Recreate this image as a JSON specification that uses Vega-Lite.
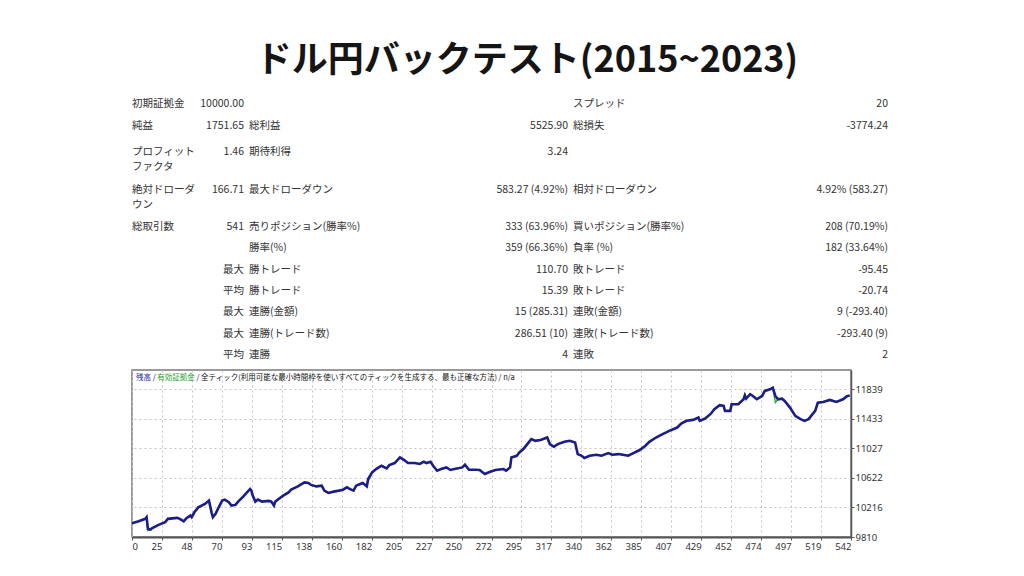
{
  "$schema": "https://vega.github.io/schema/vega-lite/v6.json",
  "background": "white",
  "padding": {"left": 126, "top": 43, "right": 10, "bottom": 10},
  "title": {"text": "ドル円バックテスト(2015~2023)", "font": "Noto Sans CJK JP", "fontSize": 36, "fontWeight": "bold", "color": "#151515", "anchor": "middle", "offset": 19, "dx": 20},
  "config": {"view": {"stroke": null}, "font": "Noto Sans CJK JP"},
  "bounds": "flush",
  "spacing": 15,
  "datasets": {
    "table": [
      {"g": 1, "row": 1, "label": "初期証拠金", "value": "10000.00"},
      {"g": 1, "row": 5, "label": "純益", "value": "1751.65"},
      {"g": 1, "row": 10, "label": "プロフィット\nファクタ", "value": "1.46"},
      {"g": 1, "row": 17, "label": "絶対ドローダ\nウン", "value": "166.71"},
      {"g": 1, "row": 24, "label": "総取引数", "value": "541"},
      {"g": 1, "row": 32, "label": "", "value": "最大"},
      {"g": 1, "row": 36, "label": "", "value": "平均"},
      {"g": 1, "row": 40, "label": "", "value": "最大"},
      {"g": 1, "row": 44, "label": "", "value": "最大"},
      {"g": 1, "row": 48, "label": "", "value": "平均"},
      {"g": 2, "row": 5, "label": "総利益", "value": "5525.90"},
      {"g": 2, "row": 10, "label": "期待利得", "value": "3.24"},
      {"g": 2, "row": 17, "label": "最大ドローダウン", "value": "583.27 (4.92%)"},
      {"g": 2, "row": 24, "label": "売りポジション(勝率%)", "value": "333 (63.96%)"},
      {"g": 2, "row": 28, "label": "勝率(%)", "value": "359 (66.36%)"},
      {"g": 2, "row": 32, "label": "勝トレード", "value": "110.70"},
      {"g": 2, "row": 36, "label": "勝トレード", "value": "15.39"},
      {"g": 2, "row": 40, "label": "連勝(金額)", "value": "15 (285.31)"},
      {"g": 2, "row": 44, "label": "連勝(トレード数)", "value": "286.51 (10)"},
      {"g": 2, "row": 48, "label": "連勝", "value": "4"},
      {"g": 3, "row": 1, "label": "スプレッド", "value": "20"},
      {"g": 3, "row": 5, "label": "総損失", "value": "-3774.24"},
      {"g": 3, "row": 17, "label": "相対ドローダウン", "value": "4.92% (583.27)"},
      {"g": 3, "row": 24, "label": "買いポジション(勝率%)", "value": "208 (70.19%)"},
      {"g": 3, "row": 28, "label": "負率 (%)", "value": "182 (33.64%)"},
      {"g": 3, "row": 32, "label": "敗トレード", "value": "-95.45"},
      {"g": 3, "row": 36, "label": "敗トレード", "value": "-20.74"},
      {"g": 3, "row": 40, "label": "連敗(金額)", "value": "9 (-293.40)"},
      {"g": 3, "row": 44, "label": "連敗(トレード数)", "value": "-293.40 (9)"},
      {"g": 3, "row": 48, "label": "連敗", "value": "2"}
    ],
    "bal": [
      {"i": 0, "b": 10000, "e": 10000},
      {"i": 5, "b": 10026, "e": 10026},
      {"i": 10, "b": 10059, "e": 10059},
      {"i": 11, "b": 10081, "e": 10081},
      {"i": 12, "b": 9922, "e": 9900},
      {"i": 14, "b": 9913, "e": 9913},
      {"i": 15, "b": 9930, "e": 9930},
      {"i": 20, "b": 9977, "e": 9977},
      {"i": 25, "b": 10012, "e": 10012},
      {"i": 27, "b": 10059, "e": 10059},
      {"i": 34, "b": 10072, "e": 10072},
      {"i": 36, "b": 10059, "e": 10059},
      {"i": 39, "b": 10026, "e": 10026},
      {"i": 41, "b": 10067, "e": 10067},
      {"i": 44, "b": 10104, "e": 10104},
      {"i": 45, "b": 10081, "e": 10081},
      {"i": 47, "b": 10149, "e": 10149},
      {"i": 50, "b": 10217, "e": 10217},
      {"i": 55, "b": 10264, "e": 10264},
      {"i": 58, "b": 10309, "e": 10309},
      {"i": 60, "b": 10149, "e": 10120},
      {"i": 61, "b": 10081, "e": 10081},
      {"i": 63, "b": 10127, "e": 10127},
      {"i": 65, "b": 10204, "e": 10204},
      {"i": 68, "b": 10309, "e": 10309},
      {"i": 70, "b": 10323, "e": 10323},
      {"i": 73, "b": 10286, "e": 10286},
      {"i": 75, "b": 10241, "e": 10241},
      {"i": 78, "b": 10250, "e": 10250},
      {"i": 80, "b": 10295, "e": 10295},
      {"i": 84, "b": 10368, "e": 10368},
      {"i": 89, "b": 10469, "e": 10469},
      {"i": 90, "b": 10446, "e": 10446},
      {"i": 91, "b": 10377, "e": 10377},
      {"i": 93, "b": 10295, "e": 10295},
      {"i": 95, "b": 10323, "e": 10323},
      {"i": 98, "b": 10295, "e": 10295},
      {"i": 103, "b": 10305, "e": 10305},
      {"i": 105, "b": 10295, "e": 10295},
      {"i": 107, "b": 10241, "e": 10241},
      {"i": 108, "b": 10295, "e": 10295},
      {"i": 110, "b": 10323, "e": 10323},
      {"i": 114, "b": 10377, "e": 10377},
      {"i": 118, "b": 10422, "e": 10422},
      {"i": 120, "b": 10459, "e": 10459},
      {"i": 125, "b": 10504, "e": 10504},
      {"i": 130, "b": 10559, "e": 10559},
      {"i": 133, "b": 10551, "e": 10551},
      {"i": 135, "b": 10524, "e": 10524},
      {"i": 139, "b": 10504, "e": 10504},
      {"i": 143, "b": 10514, "e": 10514},
      {"i": 145, "b": 10446, "e": 10446},
      {"i": 148, "b": 10414, "e": 10414},
      {"i": 152, "b": 10432, "e": 10432},
      {"i": 156, "b": 10446, "e": 10446},
      {"i": 159, "b": 10459, "e": 10459},
      {"i": 162, "b": 10491, "e": 10491},
      {"i": 164, "b": 10469, "e": 10469},
      {"i": 167, "b": 10446, "e": 10446},
      {"i": 169, "b": 10514, "e": 10514},
      {"i": 172, "b": 10537, "e": 10537},
      {"i": 174, "b": 10551, "e": 10551},
      {"i": 177, "b": 10504, "e": 10504},
      {"i": 178, "b": 10606, "e": 10580},
      {"i": 181, "b": 10696, "e": 10696},
      {"i": 184, "b": 10742, "e": 10742},
      {"i": 188, "b": 10787, "e": 10787},
      {"i": 192, "b": 10750, "e": 10750},
      {"i": 194, "b": 10797, "e": 10797},
      {"i": 198, "b": 10824, "e": 10824},
      {"i": 202, "b": 10901, "e": 10901},
      {"i": 205, "b": 10869, "e": 10869},
      {"i": 208, "b": 10824, "e": 10824},
      {"i": 213, "b": 10824, "e": 10824},
      {"i": 217, "b": 10811, "e": 10811},
      {"i": 220, "b": 10842, "e": 10842},
      {"i": 222, "b": 10824, "e": 10824},
      {"i": 225, "b": 10842, "e": 10842},
      {"i": 227, "b": 10787, "e": 10787},
      {"i": 230, "b": 10719, "e": 10719},
      {"i": 233, "b": 10742, "e": 10742},
      {"i": 237, "b": 10764, "e": 10764},
      {"i": 240, "b": 10729, "e": 10729},
      {"i": 243, "b": 10742, "e": 10742},
      {"i": 249, "b": 10764, "e": 10764},
      {"i": 251, "b": 10801, "e": 10801},
      {"i": 254, "b": 10733, "e": 10733},
      {"i": 259, "b": 10733, "e": 10733},
      {"i": 262, "b": 10729, "e": 10729},
      {"i": 266, "b": 10674, "e": 10674},
      {"i": 270, "b": 10705, "e": 10705},
      {"i": 274, "b": 10729, "e": 10729},
      {"i": 280, "b": 10742, "e": 10742},
      {"i": 282, "b": 10719, "e": 10719},
      {"i": 285, "b": 10764, "e": 10764},
      {"i": 286, "b": 10901, "e": 10901},
      {"i": 290, "b": 10924, "e": 10924},
      {"i": 292, "b": 10969, "e": 10969},
      {"i": 295, "b": 11016, "e": 11016},
      {"i": 298, "b": 11084, "e": 11084},
      {"i": 301, "b": 11152, "e": 11152},
      {"i": 304, "b": 11129, "e": 11129},
      {"i": 308, "b": 11139, "e": 11139},
      {"i": 313, "b": 11174, "e": 11174},
      {"i": 315, "b": 11084, "e": 11084},
      {"i": 318, "b": 11047, "e": 11047},
      {"i": 321, "b": 11084, "e": 11084},
      {"i": 326, "b": 11115, "e": 11115},
      {"i": 330, "b": 11129, "e": 11129},
      {"i": 334, "b": 11106, "e": 11106},
      {"i": 336, "b": 10947, "e": 10947},
      {"i": 339, "b": 10924, "e": 10924},
      {"i": 341, "b": 10893, "e": 10893},
      {"i": 345, "b": 10924, "e": 10924},
      {"i": 350, "b": 10938, "e": 10938},
      {"i": 354, "b": 10924, "e": 10924},
      {"i": 359, "b": 10961, "e": 10961},
      {"i": 362, "b": 10938, "e": 10938},
      {"i": 367, "b": 10947, "e": 10947},
      {"i": 370, "b": 10938, "e": 10938},
      {"i": 374, "b": 10924, "e": 10924},
      {"i": 378, "b": 10961, "e": 10961},
      {"i": 383, "b": 11006, "e": 11006},
      {"i": 387, "b": 11061, "e": 11061},
      {"i": 390, "b": 11115, "e": 11115},
      {"i": 395, "b": 11174, "e": 11174},
      {"i": 400, "b": 11221, "e": 11221},
      {"i": 405, "b": 11266, "e": 11266},
      {"i": 411, "b": 11311, "e": 11311},
      {"i": 414, "b": 11366, "e": 11366},
      {"i": 418, "b": 11403, "e": 11403},
      {"i": 423, "b": 11416, "e": 11416},
      {"i": 427, "b": 11448, "e": 11448},
      {"i": 428, "b": 11403, "e": 11403},
      {"i": 432, "b": 11434, "e": 11434},
      {"i": 436, "b": 11494, "e": 11494},
      {"i": 439, "b": 11562, "e": 11562},
      {"i": 443, "b": 11617, "e": 11617},
      {"i": 446, "b": 11608, "e": 11608},
      {"i": 447, "b": 11539, "e": 11539},
      {"i": 451, "b": 11539, "e": 11539},
      {"i": 452, "b": 11631, "e": 11631},
      {"i": 457, "b": 11631, "e": 11631},
      {"i": 461, "b": 11699, "e": 11699},
      {"i": 462, "b": 11754, "e": 11754},
      {"i": 463, "b": 11707, "e": 11707},
      {"i": 466, "b": 11768, "e": 11768},
      {"i": 468, "b": 11744, "e": 11744},
      {"i": 471, "b": 11699, "e": 11699},
      {"i": 475, "b": 11744, "e": 11744},
      {"i": 477, "b": 11813, "e": 11813},
      {"i": 481, "b": 11836, "e": 11836},
      {"i": 483, "b": 11858, "e": 11858},
      {"i": 485, "b": 11744, "e": 11653},
      {"i": 487, "b": 11699, "e": 11699},
      {"i": 490, "b": 11707, "e": 11707},
      {"i": 492, "b": 11676, "e": 11676},
      {"i": 496, "b": 11584, "e": 11584},
      {"i": 500, "b": 11471, "e": 11471},
      {"i": 504, "b": 11426, "e": 11426},
      {"i": 507, "b": 11403, "e": 11403},
      {"i": 510, "b": 11426, "e": 11426},
      {"i": 515, "b": 11539, "e": 11539},
      {"i": 517, "b": 11653, "e": 11653},
      {"i": 521, "b": 11662, "e": 11662},
      {"i": 526, "b": 11690, "e": 11690},
      {"i": 531, "b": 11662, "e": 11662},
      {"i": 536, "b": 11699, "e": 11699},
      {"i": 539, "b": 11740, "e": 11740},
      {"i": 541, "b": 11752, "e": 11752}
    ],
    "header": [
      {"bal": "残高", "sep": "/", "eq": "有効証拠金", "rest": "/ 全ティック(利用可能な最小時間枠を使いすべてのティックを生成する、最も正確な方法) / n/a"}
    ]
  },
  "vconcat": [
    {
      "width": 756, "height": 256,
      "data": {"name": "table"},
      "resolve": {"scale": {"x": "independent"}},
      "layer": [
        {"transform": [{"filter": "datum.g == 1"}],
         "layer": [
           {"mark": {"type": "text", "align": "left", "baseline": "middle", "fontSize": 10.5, "color": "#333", "lineBreak": "\n", "lineHeight": 15},
            "encoding": {"x": {"datum": 0, "type": "quantitative", "scale": {"domain": [0, 1], "range": [0, 112], "nice": false, "zero": false}, "axis": null},
                         "y": {"field": "row", "type": "quantitative", "scale": {"domain": [0, 48], "reverse": true, "nice": false, "zero": false}, "axis": null},
                         "text": {"field": "label"}}},
           {"mark": {"type": "text", "align": "right", "baseline": "middle", "fontSize": 10.5, "color": "#333"},
            "encoding": {"x": {"datum": 1, "type": "quantitative"},
                         "y": {"field": "row", "type": "quantitative"},
                         "text": {"field": "value"}}}
         ]},
        {"transform": [{"filter": "datum.g == 2"}],
         "layer": [
           {"mark": {"type": "text", "align": "left", "baseline": "middle", "fontSize": 10.5, "color": "#333", "lineBreak": "\n", "lineHeight": 15},
            "encoding": {"x": {"datum": 0, "type": "quantitative", "scale": {"domain": [0, 1], "range": [117, 436], "nice": false, "zero": false}, "axis": null},
                         "y": {"field": "row", "type": "quantitative", "scale": {"domain": [0, 48], "reverse": true, "nice": false, "zero": false}, "axis": null},
                         "text": {"field": "label"}}},
           {"mark": {"type": "text", "align": "right", "baseline": "middle", "fontSize": 10.5, "color": "#333"},
            "encoding": {"x": {"datum": 1, "type": "quantitative"},
                         "y": {"field": "row", "type": "quantitative"},
                         "text": {"field": "value"}}}
         ]},
        {"transform": [{"filter": "datum.g == 3"}],
         "layer": [
           {"mark": {"type": "text", "align": "left", "baseline": "middle", "fontSize": 10.5, "color": "#333", "lineBreak": "\n", "lineHeight": 15},
            "encoding": {"x": {"datum": 0, "type": "quantitative", "scale": {"domain": [0, 1], "range": [441, 756], "nice": false, "zero": false}, "axis": null},
                         "y": {"field": "row", "type": "quantitative", "scale": {"domain": [0, 48], "reverse": true, "nice": false, "zero": false}, "axis": null},
                         "text": {"field": "label"}}},
           {"mark": {"type": "text", "align": "right", "baseline": "middle", "fontSize": 10.5, "color": "#333"},
            "encoding": {"x": {"datum": 1, "type": "quantitative"},
                         "y": {"field": "row", "type": "quantitative"},
                         "text": {"field": "value"}}}
         ]}
      ]
    },
    {
      "width": 719, "height": 167,
      "view": {"stroke": "#7a7a7a", "strokeWidth": 1.5},
      "layer": [
        {
          "data": {"name": "bal"},
          "mark": {"type": "line", "color": "#33b033", "strokeWidth": 1.5},
          "encoding": {
            "x": {"field": "i", "type": "quantitative",
                  "scale": {"domain": [0, 542], "nice": false, "zero": false},
                  "axis": {"title": null, "tickCount": 40, "values": [0, 22.5833, 45.1667, 67.75, 90.3333, 112.9167, 135.5, 158.0833, 180.6667, 203.25, 225.8333, 248.4167, 271, 293.5833, 316.1667, 338.75, 361.3333, 383.9167, 406.5, 429.0833, 451.6667, 474.25, 496.8333, 519.4167, 542],
                           "labelExpr": "['0','25','48','70','93','115','138','160','182','205','227','250','272','295','317','340','362','385','407','429','452','474','497','519','542'][round(datum.value / 22.5833)]",
                           "labelAlign": {"condition": {"test": "datum.value < 1", "value": "left"}, "value": "right"},
                           "labelOverlap": false, "labelFont": "Noto Sans", "labelFontSize": 9.5, "labelColor": "#333", "labelPadding": 1,
                           "grid": true, "gridColor": "#c4c4c4", "gridDash": [2, 3], "gridWidth": 1,
                           "tickSize": 3, "tickColor": "#555", "domainColor": "#555", "domainWidth": 2}},
            "y": {"field": "e", "type": "quantitative",
                  "scale": {"domain": [9810, 12100], "nice": false, "zero": false},
                  "axis": {"title": null, "orient": "right", "tickCount": 20, "values": [9810, 10216, 10622, 11027, 11433, 11839], "format": "d",
                           "labelOverlap": false, "labelFont": "Noto Sans", "labelFontSize": 9.5, "labelColor": "#333", "labelPadding": 1,
                           "grid": true, "gridColor": "#c4c4c4", "gridDash": [2, 3], "gridWidth": 1,
                           "tickSize": 3, "tickColor": "#555", "domainColor": "#555", "domainWidth": 1.5}}
          }
        },
        {
          "data": {"name": "bal"},
          "mark": {"type": "line", "color": "#1d1d8a", "strokeWidth": 2.6},
          "encoding": {
            "x": {"field": "i", "type": "quantitative"},
            "y": {"field": "b", "type": "quantitative"}
          }
        },
        {
          "data": {"name": "header"},
          "mark": {"type": "text", "align": "left", "baseline": "middle", "fontSize": 7.5, "color": "#1f1f9a"},
          "encoding": {"x": {"datum": 3, "type": "quantitative"}, "y": {"datum": 11990, "type": "quantitative"}, "text": {"field": "bal"}}
        },
        {
          "data": {"name": "header"},
          "mark": {"type": "text", "align": "left", "baseline": "middle", "fontSize": 7.5, "color": "#111"},
          "encoding": {"x": {"datum": 15.6, "type": "quantitative"}, "y": {"datum": 11990, "type": "quantitative"}, "text": {"field": "sep"}}
        },
        {
          "data": {"name": "header"},
          "mark": {"type": "text", "align": "left", "baseline": "middle", "fontSize": 7.5, "color": "#2aa52a"},
          "encoding": {"x": {"datum": 19.1, "type": "quantitative"}, "y": {"datum": 11990, "type": "quantitative"}, "text": {"field": "eq"}}
        },
        {
          "data": {"name": "header"},
          "mark": {"type": "text", "align": "left", "baseline": "middle", "fontSize": 7.5, "color": "#111"},
          "encoding": {"x": {"datum": 48.6, "type": "quantitative"}, "y": {"datum": 11990, "type": "quantitative"}, "text": {"field": "rest"}}
        }
      ]
    }
  ]
}
